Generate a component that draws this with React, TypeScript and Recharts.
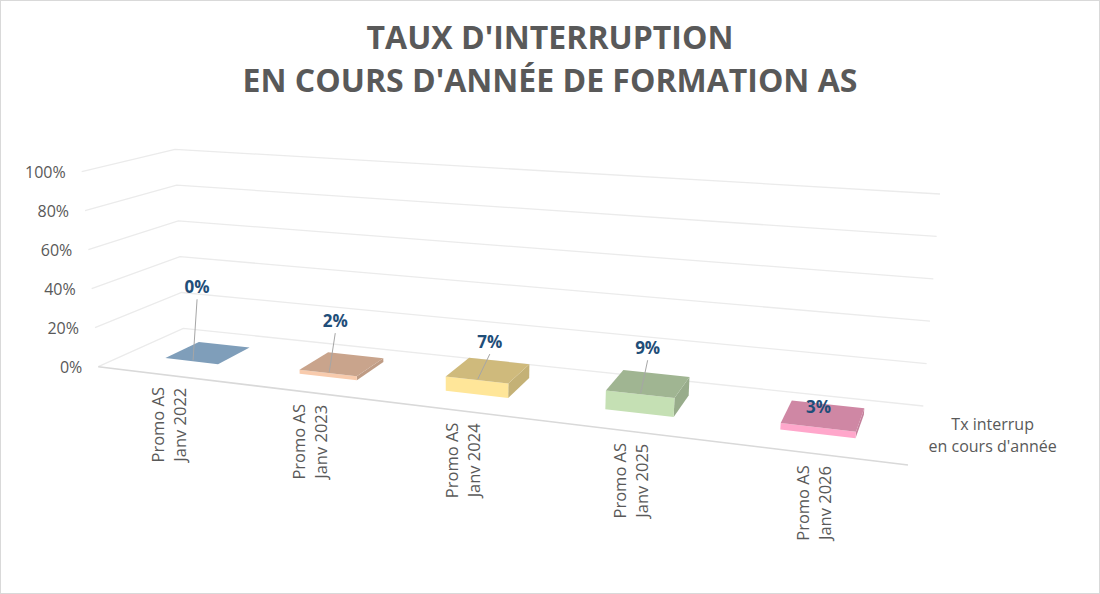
import React from 'react';
import { BarChart, Bar, XAxis, YAxis, CartesianGrid } from 'recharts';

const promos = [
  'Promo AS\nJanv 2022',
  'Promo AS\nJanv 2023',
  'Promo AS\nJanv 2024',
  'Promo AS\nJanv 2025',
  'Promo AS\nJanv 2026',
];
const tauxInterruption = [0, 0.02, 0.07, 0.09, 0.03];
const yTicks = [0, 0.2, 0.4, 0.6, 0.8, 1];
const serieNom = ['Tx interrup', "en cours d'année"];
const titre = ["TAUX D'INTERRUPTION", "EN COURS D'ANNÉE DE FORMATION AS"];

// couleurs de face avant (le dessus et le côté sont assombris)
const couleurs = ['#9dc3e6', '#f8cbad', '#ffe699', '#c5e0b4', '#ffa7cb'];
// étiquettes déplacées à la main dans Excel
const etiquetteDx = [4, 6, 12, 7, 0];
const etiquetteDy = [74, 52, 38, 46, 20];

const data = promos.map((promo, i) => ({ promo, taux: tauxInterruption[i] }));

// zone de tracé "à plat" de Recharts
const W = 1100;
const H = 594;
const MARGE = { top: 20, right: 20, bottom: 0, left: 0 };
const Y_LARG = 60;
const X_HAUT = 60;
const PL = MARGE.left + Y_LARG;
const PR = W - MARGE.right;
const PT = MARGE.top;
const PB = H - MARGE.bottom - X_HAUT;
const PW = PR - PL;
const PH = PB - PT;

// perspective façon graphique 3D d'Excel : sol + murs
const FL = [98.3, 366.7];
const FR = [908, 465];
const BL = [183.3, 328.3];
const BR = [923.3, 406];
const HF = [195, 225]; // hauteur de 100% devant (gauche, droite)
const HB = [179, 212]; // hauteur de 100% au fond
const LF = [-16.6, 20]; // inclinaison des verticales devant
const LB = [-8.3, 16.7];
const D0 = 0.34; // profondeur des barres
const D1 = 0.75;

const lerp = (a: number, b: number, t: number) => a + (b - a) * t;
const warp = (u: number) => (0.8 * u) / (1 - 0.2 * u);

function proj(u: number, d: number, v: number): [number, number] {
  const w = warp(u);
  const fx = lerp(FL[0], FR[0], w);
  const fy = lerp(FL[1], FR[1], w);
  const bx = lerp(BL[0], BR[0], w);
  const by = lerp(BL[1], BR[1], w);
  const h = lerp(lerp(HF[0], HF[1], w), lerp(HB[0], HB[1], w), d);
  const lean = lerp(lerp(LF[0], LF[1], w), lerp(LB[0], LB[1], w), d);
  return [lerp(fx, bx, d) + lean * v, lerp(fy, by, d) - h * v];
}

const toU = (x: number) => (x - PL) / PW;
const toV = (y: number) => (PB - y) / PH;
const pts = (arr: [number, number][]) => arr.map((p) => p.join(',')).join(' ');

function assombrir(hex: string, f: number) {
  const n = parseInt(hex.slice(1), 16);
  const r = Math.round(((n >> 16) & 255) * f);
  const g = Math.round(((n >> 8) & 255) * f);
  const b = Math.round((n & 255) * f);
  return `rgb(${r},${g},${b})`;
}

const TEXTE = '#595959';

// quadrillage projeté sur le mur du fond et le mur de gauche
const ligneGrille = (props: any) => {
  const v = toV(props.y1);
  const s0 = proj(0, 0, v);
  const s1 = proj(0, 1, v);
  const b1 = proj(1, 1, v);
  const f1 = proj(1, 0, 0);
  return (
    <g key={props.key ?? `grille-${props.index}`}>
      <polyline points={pts([s0, s1, b1])} fill="none" stroke="#ebebeb" strokeWidth={1.3} />
      {v < 0.001 && (
        <line x1={s0[0]} y1={s0[1]} x2={f1[0]} y2={f1[1]} stroke="#d9d9d9" strokeWidth={1.6} />
      )}
    </g>
  );
};

const TickY = (props: any) => {
  const { y, payload } = props;
  const p = proj(0, 0, toV(y));
  return (
    <text x={p[0] - 16} y={p[1]} textAnchor="end" dominantBaseline="central" fill={TEXTE} fontSize={16}>
      {`${Math.round(payload.value * 100)}%`}
    </text>
  );
};

const TickX = (props: any) => {
  const { x, payload } = props;
  const p = proj(toU(x), 0, 0);
  const lignes = String(payload.value).split('\n');
  return (
    <g transform={`translate(${p[0] + 4},${p[1] + 50}) rotate(-90)`}>
      <text textAnchor="middle" dominantBaseline="central" fill={TEXTE} fontSize={16.5}>
        {lignes.map((l, i) => (
          <tspan key={i} x={0} y={(i - (lignes.length - 1) / 2) * 22}>
            {l}
          </tspan>
        ))}
      </text>
    </g>
  );
};

// barre en volume + étiquette de données avec trait de rappel
const Barre3D = (props: any) => {
  const { x, y, width, index, value } = props;
  const u0 = toU(x);
  const u1 = toU(x + width);
  const v = toV(y);
  const face = couleurs[index % couleurs.length];
  const dessus = [proj(u0, D0, v), proj(u1, D0, v), proj(u1, D1, v), proj(u0, D1, v)];
  const avant = [proj(u0, D0, 0), proj(u1, D0, 0), proj(u1, D0, v), proj(u0, D0, v)];
  const cote = [proj(u1, D0, 0), proj(u1, D1, 0), proj(u1, D1, v), proj(u1, D0, v)];
  const ancre = proj((u0 + u1) / 2, D0 + 0.02, v);
  const lx = ancre[0] + etiquetteDx[index];
  const ly = ancre[1] - etiquetteDy[index];
  const val = Array.isArray(value) ? value[1] - value[0] : value;
  return (
    <g>
      {v > 0.001 && <polygon points={pts(cote as any)} fill={assombrir(face, 0.77)} />}
      {v > 0.001 && <polygon points={pts(avant as any)} fill={face} />}
      <polygon points={pts(dessus as any)} fill={assombrir(face, 0.81)} />
      {etiquetteDy[index] > 30 && (
        <line x1={lx} y1={ly + 13} x2={ancre[0]} y2={ancre[1]} stroke="#a6a6a6" strokeWidth={1} />
      )}
      <text
        x={lx}
        y={ly}
        textAnchor="middle"
        dominantBaseline="central"
        fill="#1f4e79"
        fontSize={17}
        fontWeight={700}
      >
        {`${Math.round(val * 100)}%`}
      </text>
    </g>
  );
};

const EtiquetteSerie = () => {
  const p = proj(1, 0.5, 0);
  return (
    <text textAnchor="middle" dominantBaseline="central" fill={TEXTE} fontSize={16}>
      <tspan x={p[0] + 77} y={p[1] - 12}>
        {serieNom[0]}
      </tspan>
      <tspan x={p[0] + 77} y={p[1] + 10}>
        {serieNom[1]}
      </tspan>
    </text>
  );
};

export default function App() {
  return (
    <div
      style={{
        position: 'absolute',
        left: 0,
        top: 0,
        width: W,
        height: H,
        background: '#ffffff',
        fontFamily: '"Open Sans", sans-serif',
      }}
    >
      <div
        style={{
          position: 'absolute',
          left: 0,
          top: 15,
          width: W,
          textAlign: 'center',
          fontSize: 32,
          fontWeight: 700,
          lineHeight: '43px',
          color: TEXTE,
        }}
      >
        {titre.map((t) => (
          <div key={t}>{t}</div>
        ))}
      </div>
      <BarChart width={W} height={H} data={data} margin={MARGE} barCategoryGap="30%">
        <CartesianGrid vertical={false} horizontal={ligneGrille} />
        <XAxis
          dataKey="promo"
          height={X_HAUT}
          axisLine={false}
          tickLine={false}
          interval={0}
          tick={<TickX />}
          label={EtiquetteSerie}
        />
        <YAxis
          type="number"
          domain={[0, 1]}
          ticks={yTicks}
          width={Y_LARG}
          axisLine={false}
          tickLine={false}
          tick={<TickY />}
        />
        <Bar dataKey="taux" shape={<Barre3D />} isAnimationActive={false} />
      </BarChart>
      <div
        style={{
          position: 'absolute',
          left: 0,
          top: 0,
          width: W,
          height: H,
          boxSizing: 'border-box',
          border: '1px solid #d9d9d9',
          pointerEvents: 'none',
        }}
      />
    </div>
  );
}
